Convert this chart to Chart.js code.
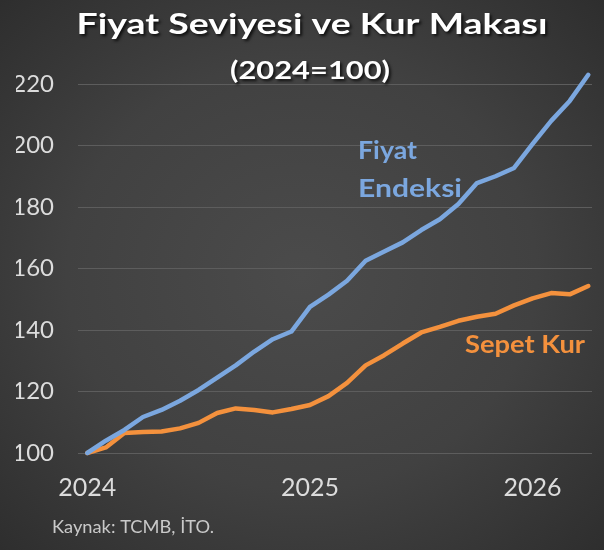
<!DOCTYPE html>
<html>
<head>
<meta charset="utf-8">
<script src="https://cdn.jsdelivr.net/npm/chart.js@4/dist/chart.umd.min.js"></script>
<style>
  html, body { margin: 0; padding: 0; }
  body {
    width: 604px; height: 550px; overflow: hidden;
    background: radial-gradient(ellipse at 50% 50%, #4b4b4b 0%, #414141 55%, #2e2e2e 100%);
  }
  canvas { display: block; }
</style>
</head>
<body>
<canvas id="c" width="604" height="550"></canvas>
<script>
// ---- Data ----
const months = [
  'Oca 2024','Şub 2024','Mar 2024','Nis 2024','May 2024','Haz 2024','Tem 2024','Ağu 2024','Eyl 2024','Eki 2024','Kas 2024','Ara 2024',
  'Oca 2025','Şub 2025','Mar 2025','Nis 2025','May 2025','Haz 2025','Tem 2025','Ağu 2025','Eyl 2025','Eki 2025','Kas 2025','Ara 2025',
  'Oca 2026','Şub 2026','Mar 2026','Nis 2026'
];
const fiyatEndeksi = [
  100, 104, 107.5, 111.7, 114, 117, 120.5, 124.5, 128.5, 133, 137, 139.5,
  147.5, 151.5, 156, 162.5, 165.5, 168.5, 172.5, 176, 181, 187.8, 190, 192.7,
  200.5, 208, 214.5, 223
];
const sepetKur = [
  100, 101.8, 106.5, 106.8, 107, 108, 109.8, 113, 114.5, 114, 113.2, 114.3,
  115.6, 118.5, 122.8, 128.5, 131.8, 135.6, 139.2, 141, 143, 144.3, 145.3, 148,
  150.3, 152, 151.6, 154.3
];
const yearLabels = ['2024', '2025', '2026'];
const yTickMin = 100, yTickMax = 220, yTickStep = 20;

const titleText = 'Fiyat Seviyesi ve Kur Makası';
const subtitleText = '(2024=100)';
const seriesNames = { fiyat: ['Fiyat', 'Endeksi'], kur: 'Sepet Kur' };
const sourceText = 'Kaynak: TCMB, İTO.';

// ---- Styles ----
const BLUE = '#7ba7df';
const ORANGE = '#f4913d';
const FONT = 'Lato, Carlito, "Open Sans", sans-serif';

// index of each year's first month on the x axis
const yearPos = yearLabels.map(y => months.findIndex(m => m.endsWith(y)));

// draw text stretched horizontally to a target width (the reference font is wider)
function wideText(ctx, text, x, y, width, align) {
  const w = ctx.measureText(text).width;
  const sx = width / w;
  ctx.save();
  ctx.textAlign = 'left';
  let left = x;
  if (align === 'center') left = x - width / 2;
  ctx.translate(left, y);
  ctx.scale(sx, 1);
  ctx.fillText(text, 0, 0);
  ctx.restore();
}

const textPlugin = {
  id: 'texts',
  afterDraw(chart) {
    const ctx = chart.ctx;
    ctx.save();
    ctx.textBaseline = 'alphabetic';
    // Title with shadow
    ctx.fillStyle = '#ffffff';
    ctx.shadowColor = 'rgba(0,0,0,0.75)';
    ctx.shadowOffsetX = 2; ctx.shadowOffsetY = 2; ctx.shadowBlur = 3;
    ctx.font = 'bold 29px ' + FONT;
    wideText(ctx, titleText, 312, 34, 471, 'center');
    ctx.font = 'bold 24px ' + FONT;
    wideText(ctx, subtitleText, 310, 79, 160, 'center');
    ctx.shadowColor = 'transparent';

    // Series labels
    ctx.font = 'bold 24px ' + FONT;
    ctx.fillStyle = BLUE;
    wideText(ctx, seriesNames.fiyat[0], 358, 159, 59, 'left');
    wideText(ctx, seriesNames.fiyat[1], 358, 197, 104, 'left');
    ctx.fillStyle = ORANGE;
    wideText(ctx, seriesNames.kur, 465, 353, 120, 'left');

    // Source
    ctx.fillStyle = '#c9c9c9';
    ctx.font = '17px ' + FONT;
    wideText(ctx, sourceText, 52, 533, 162, 'left');
    ctx.restore();
  }
};

new Chart(document.getElementById('c'), {
  type: 'line',
  data: {
    datasets: [
      {
        label: 'Fiyat Endeksi',
        data: fiyatEndeksi.map((v, i) => ({ x: i, y: v })),
        borderColor: BLUE,
        borderWidth: 4.5,
        pointRadius: 0,
        tension: 0,
        clip: false,
        borderJoinStyle: 'round',
        borderCapStyle: 'round'
      },
      {
        label: 'Sepet Kur',
        data: sepetKur.map((v, i) => ({ x: i, y: v })),
        borderColor: ORANGE,
        borderWidth: 4.5,
        pointRadius: 0,
        tension: 0,
        clip: false,
        borderJoinStyle: 'round',
        borderCapStyle: 'round'
      }
    ]
  },
  options: {
    responsive: false,
    animation: false,
    layout: { padding: { top: 84, left: 16, right: 12, bottom: 35 } },
    plugins: {
      legend: { display: false },
      tooltip: { enabled: false },
      title: { display: false }
    },
    scales: {
      x: {
        type: 'linear',
        min: -0.5,
        max: months.length - 1 + 0.2,
        grid: { display: false },
        border: { display: false },
        afterBuildTicks(scale) {
          scale.ticks = yearPos.map(v => ({ value: v }));
        },
        ticks: {
          autoSkip: false,
          maxRotation: 0,
          padding: 12,
          color: '#dcdcdc',
          font: { family: FONT, size: 25 },
          callback(value) {
            const k = yearPos.indexOf(value);
            return k >= 0 ? yearLabels[k] : '';
          }
        }
      },
      y: {
        min: yTickMin,
        max: yTickMax,
        afterFit(scale) { scale.width = 62; },
        grid: { color: '#5d5d5d', lineWidth: 1, drawTicks: false },
        border: { display: false },
        ticks: {
          stepSize: yTickStep,
          padding: 24,
          color: '#dcdcdc',
          font: { family: FONT, size: 24 }
        }
      }
    }
  },
  plugins: [textPlugin]
});
</script>
</body>
</html>
